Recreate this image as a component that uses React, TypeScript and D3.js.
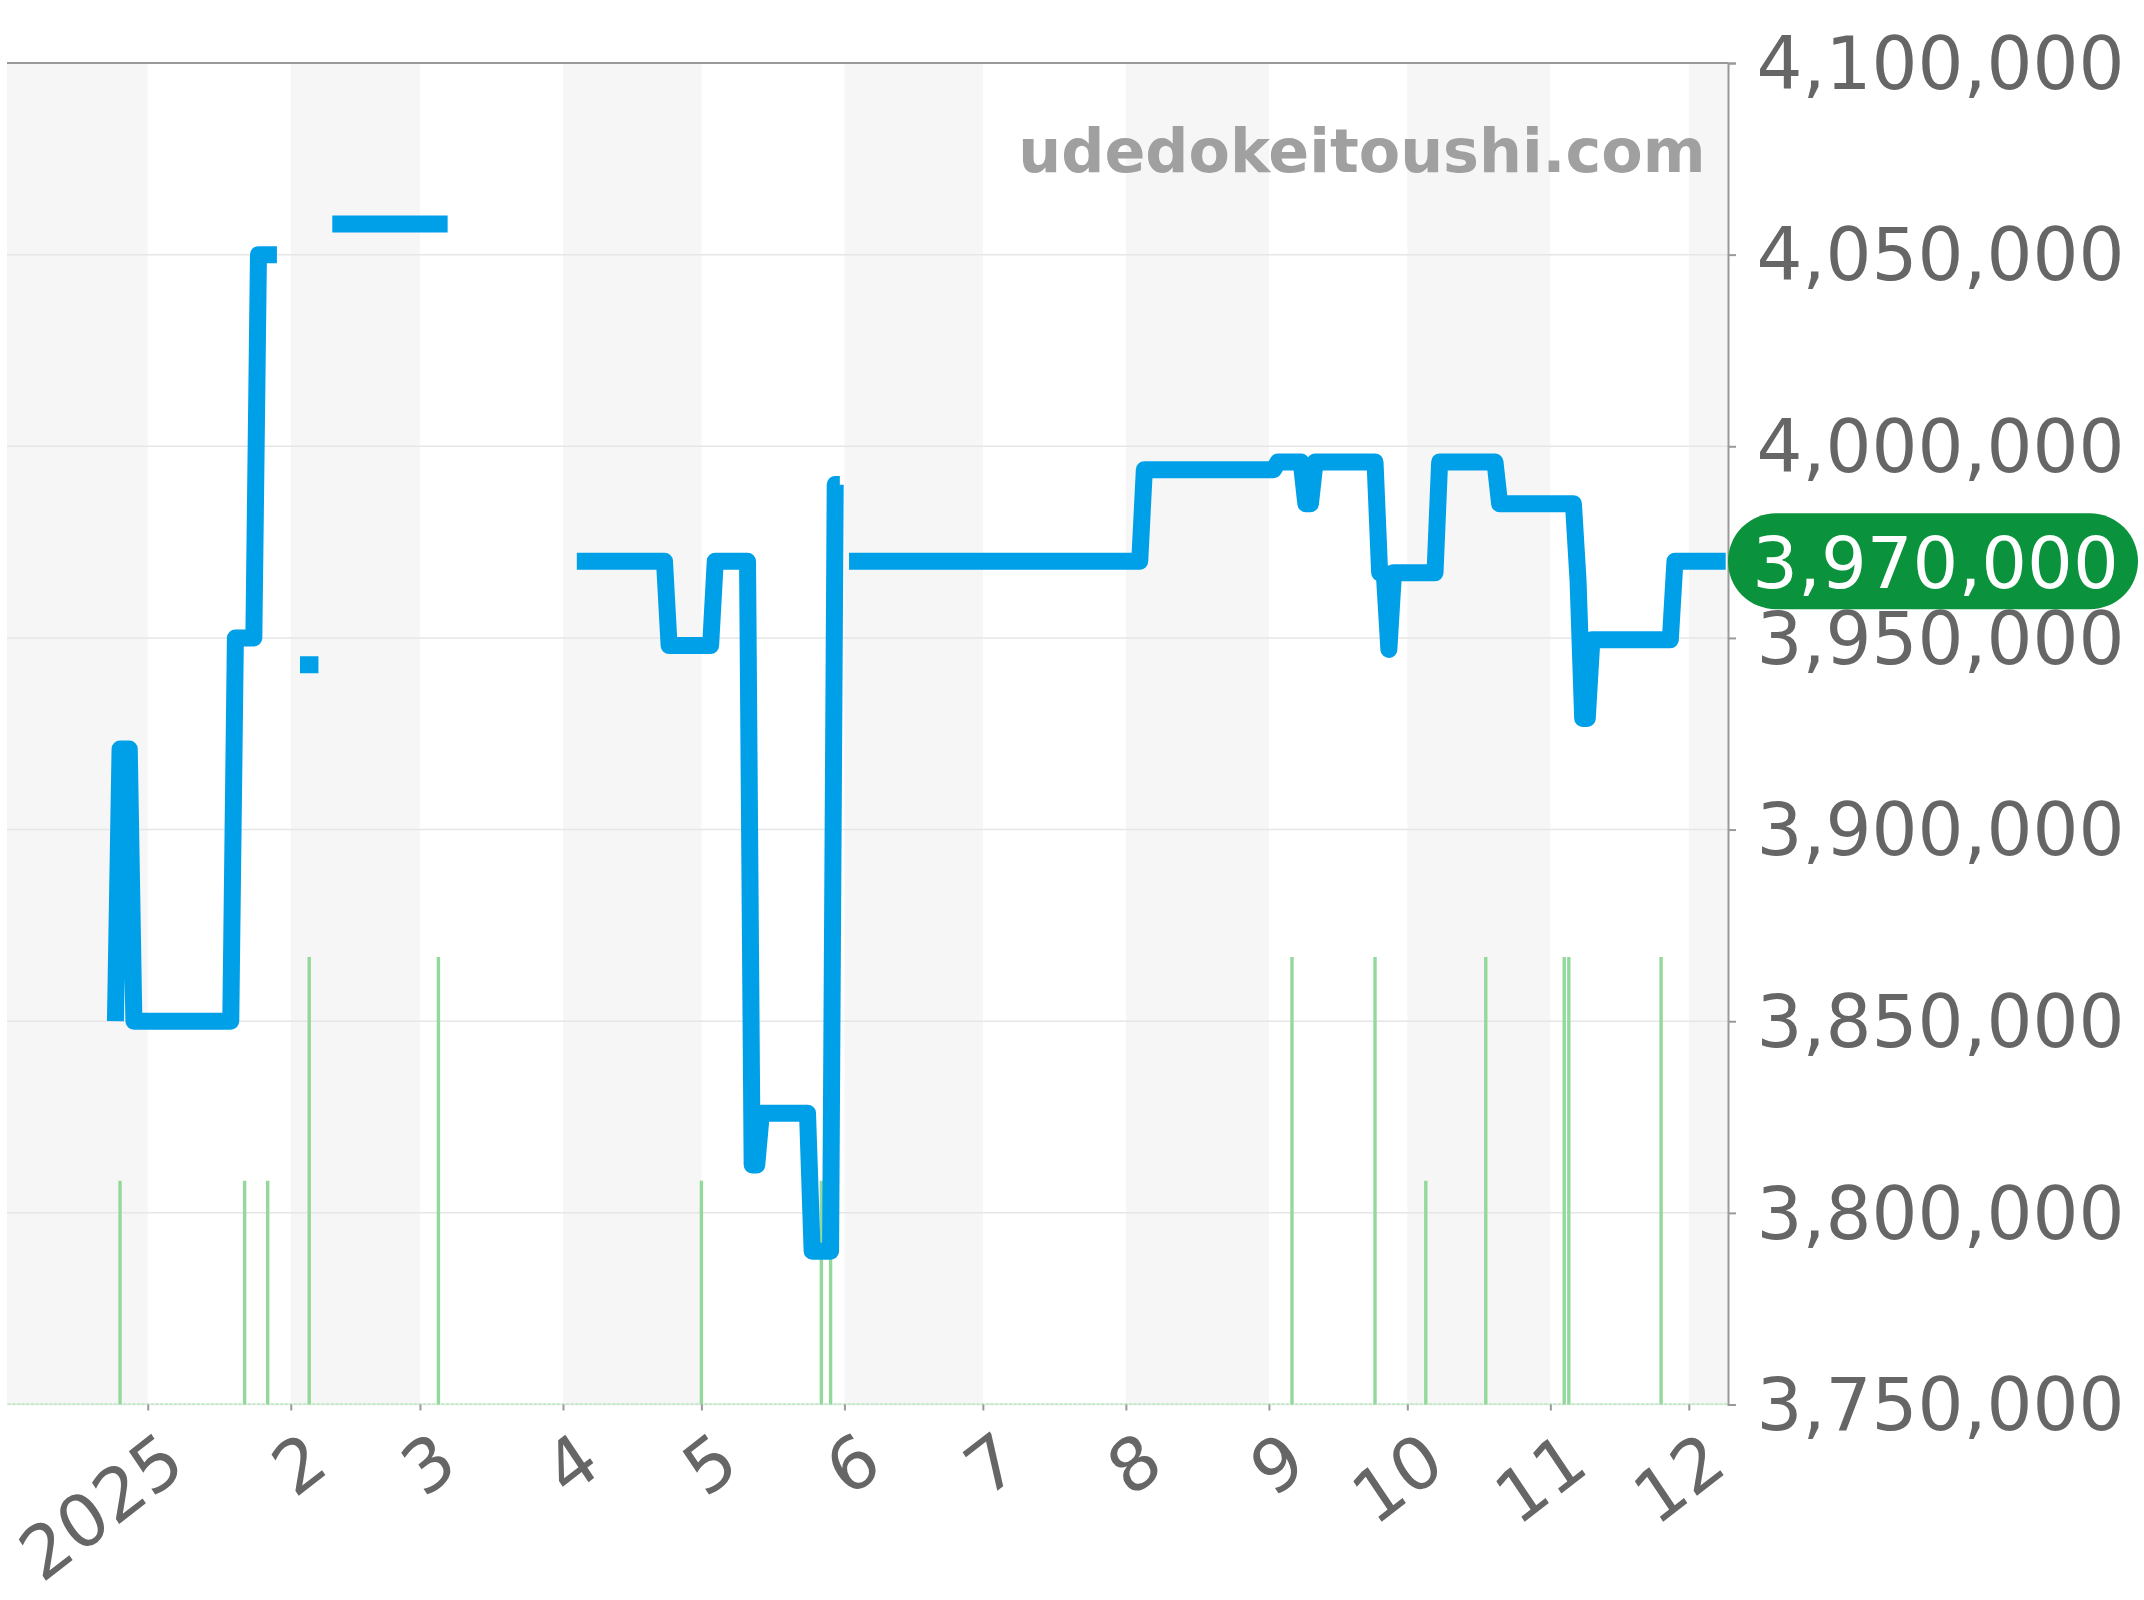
import React, { useRef, useEffect } from 'react';
import * as d3 from 'd3';

// price line, null = gap in the line
const priceDates = [
  '2024-12-25', '2024-12-26', '2024-12-28', '2024-12-29', '2025-01-19', '2025-01-20', '2025-01-24', '2025-01-25', '2025-01-29', '2025-01-30',
  '2025-02-03', '2025-02-07', '2025-02-08',
  '2025-02-10', '2025-03-07', '2025-03-08',
  '2025-04-04', '2025-04-23', '2025-04-24', '2025-05-03', '2025-05-04', '2025-05-11', '2025-05-12', '2025-05-13', '2025-05-14', '2025-05-24', '2025-05-25', '2025-05-29', '2025-05-30', '2025-05-31', '2025-06-01',
  '2025-06-02', '2025-08-04', '2025-08-05', '2025-09-02', '2025-09-03', '2025-09-08', '2025-09-09', '2025-09-10', '2025-09-11', '2025-09-24', '2025-09-25', '2025-09-26', '2025-09-27', '2025-09-28', '2025-10-07', '2025-10-08', '2025-10-20', '2025-10-21', '2025-11-06', '2025-11-07', '2025-11-08', '2025-11-09', '2025-11-10', '2025-11-27', '2025-11-28', '2025-12-09',
];
const priceValues = [
  3850000, 3921000, 3921000, 3850000, 3850000, 3950000, 3950000, 4050000, 4050000, null,
  3943000, 3943000, null,
  4058000, 4058000, null,
  3970000, 3970000, 3948000, 3948000, 3970000, 3970000, 3812500, 3812500, 3826000, 3826000, 3790000, 3790000, 3990000, 3990000, null,
  3970000, 3970000, 3993900, 3993900, 3995900, 3995900, 3985000, 3985000, 3995900, 3995900, 3967000, 3967000, 3947000, 3967000, 3967000, 3995900, 3995900, 3985000, 3985000, 3965000, 3929000, 3929000, 3949500, 3949500, 3970000, 3970000,
];

// green volume bars
const volumeDates = [
  '2024-12-26', '2025-01-22', '2025-01-27', '2025-02-05', '2025-03-05', '2025-05-01', '2025-05-27', '2025-05-29',
  '2025-09-06', '2025-09-24', '2025-10-05', '2025-10-18', '2025-11-04', '2025-11-05', '2025-11-25',
];
const volumeValues = [1, 1, 1, 2, 2, 1, 1, 1, 2, 2, 1, 2, 2, 2, 2];

const yTicks = [3750000, 3800000, 3850000, 3900000, 3950000, 4000000, 4050000, 4100000];
const xTickDates = ['2025-01-01', '2025-02-01', '2025-03-01', '2025-04-01', '2025-05-01', '2025-06-01', '2025-07-01', '2025-08-01', '2025-09-01', '2025-10-01', '2025-11-01', '2025-12-01'];
const xTickLabels = ['2025', '2', '3', '4', '5', '6', '7', '8', '9', '10', '11', '12'];
const lastPrice = 3970000;
const siteName = 'udedokeitoushi.com';

const FONT = '"DejaVu Sans", sans-serif';

const Chart = () => {
  const ref = useRef<SVGSVGElement | null>(null);

  useEffect(() => {
    if (!ref.current) return;
    const svg = d3.select(ref.current);
    svg.selectAll('*').remove();

    const left = 7;
    const right = 1728;
    const top = 63;
    const bottom = 1404.5;
    const start = new Date('2024-12-01T12:00:00Z');
    const end = new Date('2025-12-09T12:00:00Z');

    const x = d3.scaleUtc().domain([start, end]).range([left, right]);
    const y = d3.scaleLinear().domain([3750000, 4100000]).range([bottom, top]);
    const yVol = d3.scaleLinear().domain([0, 2]).range([bottom, 957]);

    // alternating month bands
    const months = d3.utcMonth.range(d3.utcMonth.floor(start), end);
    svg
      .append('g')
      .selectAll('rect')
      .data(months.filter((_, i) => i % 2 === 0))
      .enter()
      .append('rect')
      .attr('x', (d) => Math.max(left, x(d)))
      .attr('y', top)
      .attr('width', (d) => Math.min(right, x(d3.utcMonth.offset(d, 1))) - Math.max(left, x(d)))
      .attr('height', bottom - top)
      .attr('fill', '#f6f6f6');

    // grid
    svg
      .append('g')
      .selectAll('line')
      .data(yTicks)
      .enter()
      .append('line')
      .attr('x1', left)
      .attr('x2', right)
      .attr('y1', (d) => y(d))
      .attr('y2', (d) => y(d))
      .attr('stroke', (d) => (d === 4100000 ? '#999999' : '#e6e6e6'))
      .attr('stroke-width', (d) => (d === 4100000 ? 2 : 1.5));

    // zero volume days make the dotted baseline
    svg
      .append('g')
      .selectAll('rect')
      .data(d3.utcDay.range(start, end))
      .enter()
      .append('rect')
      .attr('x', (d) => x(d) - 1.5)
      .attr('y', bottom - 1.5)
      .attr('width', 3)
      .attr('height', 2)
      .attr('fill', '#c4ebca');

    svg
      .append('g')
      .selectAll('rect')
      .data(volumeDates)
      .enter()
      .append('rect')
      .attr('x', (d) => x(new Date(d + 'T00:00:00Z')) - 1.7)
      .attr('y', (_, i) => yVol(volumeValues[i]))
      .attr('width', 3.4)
      .attr('height', (_, i) => bottom - yVol(volumeValues[i]))
      .attr('fill', '#94d99c');

    // watermark
    svg
      .append('text')
      .text(siteName)
      .attr('x', 1705.5)
      .attr('y', 171.5)
      .attr('text-anchor', 'end')
      .attr('font-size', 60.3)
      .attr('font-weight', 'bold')
      .attr('fill', '#a0a0a0')
      .style('font-family', FONT);

    // price
    const line = d3
      .line<number>()
      .defined((i) => priceValues[i] !== null)
      .x((i) => x(new Date(priceDates[i] + 'T00:00:00Z')))
      .y((i) => y(priceValues[i] as number));
    svg
      .append('path')
      .attr('d', line(d3.range(priceDates.length)))
      .attr('fill', 'none')
      .attr('stroke', '#00a0e9')
      .attr('stroke-width', 17)
      .attr('stroke-linejoin', 'round')
      .attr('stroke-linecap', 'butt');

    // y axis on the right
    const yAxis = svg
      .append('g')
      .attr('transform', `translate(${right},0)`)
      .call(
        d3
          .axisRight(y)
          .tickValues(yTicks)
          .tickSize(8)
          .tickPadding(20.5)
          .tickFormat((d) => d3.format(',')(d as number))
      );
    yAxis.select('.domain').attr('stroke', '#999999').attr('stroke-width', 2);
    yAxis.selectAll('.tick line').attr('stroke', '#999999').attr('stroke-width', 2);
    yAxis
      .selectAll('.tick text')
      .attr('fill', '#666666')
      .attr('font-size', 72.3)
      .attr('dy', '.35em')
      .style('font-family', FONT);

    // x axis
    const xAxis = svg
      .append('g')
      .attr('transform', `translate(0,${bottom})`)
      .call(
        d3
          .axisBottom(x)
          .tickValues(xTickDates.map((d) => new Date(d + 'T00:00:00Z')))
          .tickSize(6)
          .tickFormat((_, i) => xTickLabels[i])
      );
    xAxis.select('.domain').remove();
    xAxis.selectAll('.tick line').attr('stroke', '#999999').attr('stroke-width', 2);
    // labels are slightly sheared in the reference, so a plain rotate is not enough
    xAxis
      .selectAll('.tick text')
      .attr('fill', '#666666')
      .attr('font-size', 72)
      .attr('text-anchor', 'end')
      .attr('dy', 0)
      .attr('y', 0)
      .attr('transform', 'matrix(0.8 -0.62 0.55 0.82 40 66)')
      .style('font-family', FONT);

    // current price label
    svg
      .append('rect')
      .attr('x', right)
      .attr('y', y(lastPrice) - 48)
      .attr('width', 2138 - right)
      .attr('height', 96)
      .attr('rx', 48)
      .attr('fill', '#0a923c');
    svg
      .append('text')
      .text(d3.format(',')(lastPrice))
      .attr('x', 1935.5)
      .attr('y', y(lastPrice) + 27)
      .attr('text-anchor', 'middle')
      .attr('font-size', 72)
      .attr('fill', '#ffffff')
      .style('font-family', FONT);
  }, []);

  return (
    <svg
      ref={ref}
      width={2144}
      height={1600}
      style={{ position: 'absolute', left: 0, top: 0, background: '#ffffff' }}
    />
  );
};

export default function App() {
  return <Chart />;
}
